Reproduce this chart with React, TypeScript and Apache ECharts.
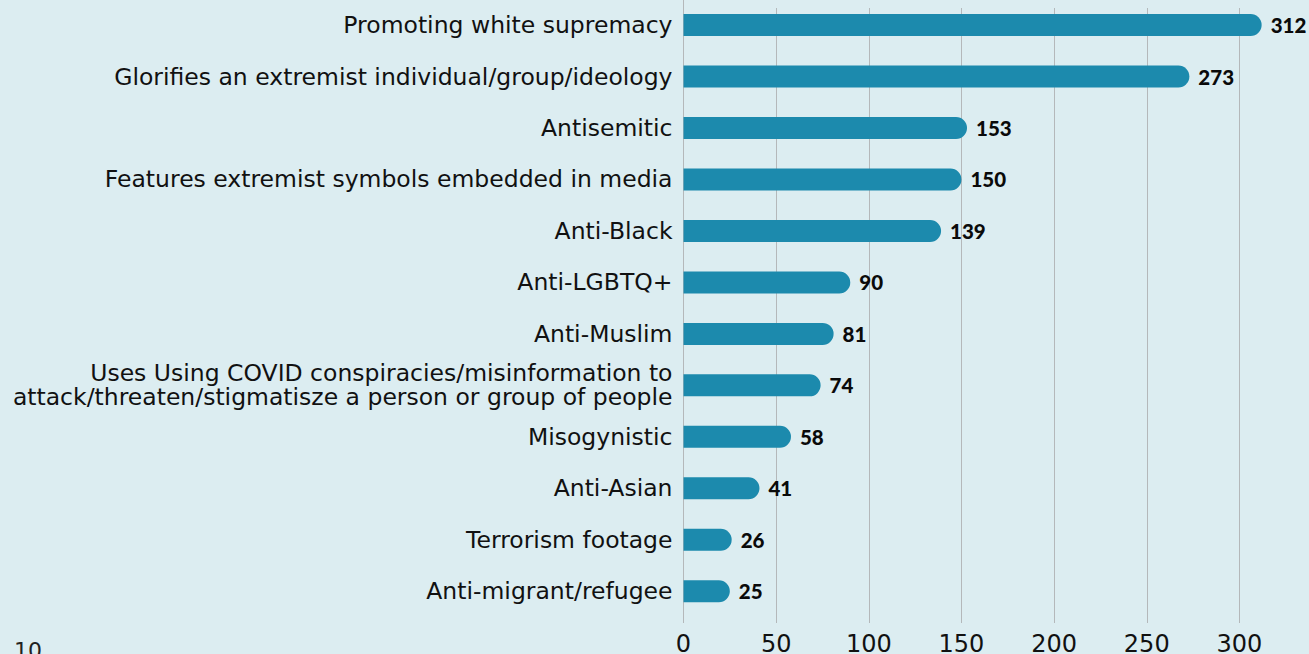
import React, { useEffect, useRef } from "react";
import * as echarts from "echarts";

const categories = [
  "Promoting white supremacy",
  "Glorifies an extremist individual/group/ideology",
  "Antisemitic",
  "Features extremist symbols embedded in media",
  "Anti-Black",
  "Anti-LGBTQ+",
  "Anti-Muslim",
  "Uses Using COVID conspiracies/misinformation to\nattack/threaten/stigmatisze a person or group of people",
  "Misogynistic",
  "Anti-Asian",
  "Terrorism footage",
  "Anti-migrant/refugee",
];
const values = [312, 273, 153, 150, 139, 90, 81, 74, 58, 41, 26, 25];
const xTicks = [0, 50, 100, 150, 200, 250, 300];
const pageNumber = "10";

const FONT = "'DejaVu Sans', sans-serif";
const W = 1309;
const H = 654;
const LEFT = 683.5;
const X_MAX = 350;
const UNIT = 1.853;
const PLOT_W = X_MAX * UNIT;

export default function App() {
  const ref = useRef<HTMLDivElement>(null);
  useEffect(() => {
    if (!ref.current) return;
    const chart = echarts.init(ref.current, null, { renderer: "svg" });
    chart.setOption({
      animation: false,
      backgroundColor: "#dcedf1",
      grid: [
        { left: LEFT, width: PLOT_W, top: 8, height: 615, outerBoundsMode: "none", containLabel: false },
        { left: LEFT, width: PLOT_W, top: -0.7, height: 617.7, outerBoundsMode: "none", containLabel: false },
      ],
      xAxis: [
        {
          gridIndex: 0,
          type: "value",
          min: 0,
          max: X_MAX,
          interval: 50,
          axisLine: { show: false },
          axisTick: { show: false },
          splitLine: { show: true, lineStyle: { color: "#b4b8ba", width: 1 } },
          axisLabel: {
            margin: 12,
            fontFamily: FONT,
            fontSize: 24,
            lineHeight: 18,
            color: "#111111",
            formatter: (v: number) => (xTicks.includes(v) ? String(v) : ""),
          },
        },
        {
          gridIndex: 1,
          type: "value",
          min: 0,
          max: X_MAX,
          show: false,
          splitLine: { show: false },
        },
      ],
      yAxis: [
        {
          gridIndex: 0,
          type: "value",
          show: false,
          splitLine: { show: false },
        },
        {
          gridIndex: 1,
          type: "category",
          inverse: true,
          data: categories,
          axisLine: { show: true, lineStyle: { color: "#b4b8ba", width: 1 } },
          axisTick: { show: false },
          axisLabel: {
            margin: 11,
            fontFamily: FONT,
            fontSize: 23.5,
            lineHeight: 24,
            color: "#111111",
            align: "right",
          },
        },
      ],
      series: [
        {
          type: "bar",
          xAxisIndex: 1,
          yAxisIndex: 1,
          data: values,
          barWidth: 22,
          itemStyle: { color: "#1c8aad", borderRadius: [0, 11, 11, 0] },
          label: {
            show: true,
            position: "right",
            distance: 9,
            fontFamily: "Lato, sans-serif",
            fontSize: 20.5,
            fontWeight: 900,
            color: "#0a0a0a",
          },
          z: 3,
        },
      ],
      graphic: [
        {
          type: "text",
          left: 14,
          top: 639,
          style: {
            text: pageNumber,
            fontFamily: FONT,
            fontSize: 22,
            lineHeight: 14,
            fill: "#222222",
          },
        },
      ],
    });
    return () => chart.dispose();
  }, []);
  return (
    <div
      ref={ref}
      style={{ position: "fixed", left: 0, top: 0, width: W, height: H }}
    />
  );
}
